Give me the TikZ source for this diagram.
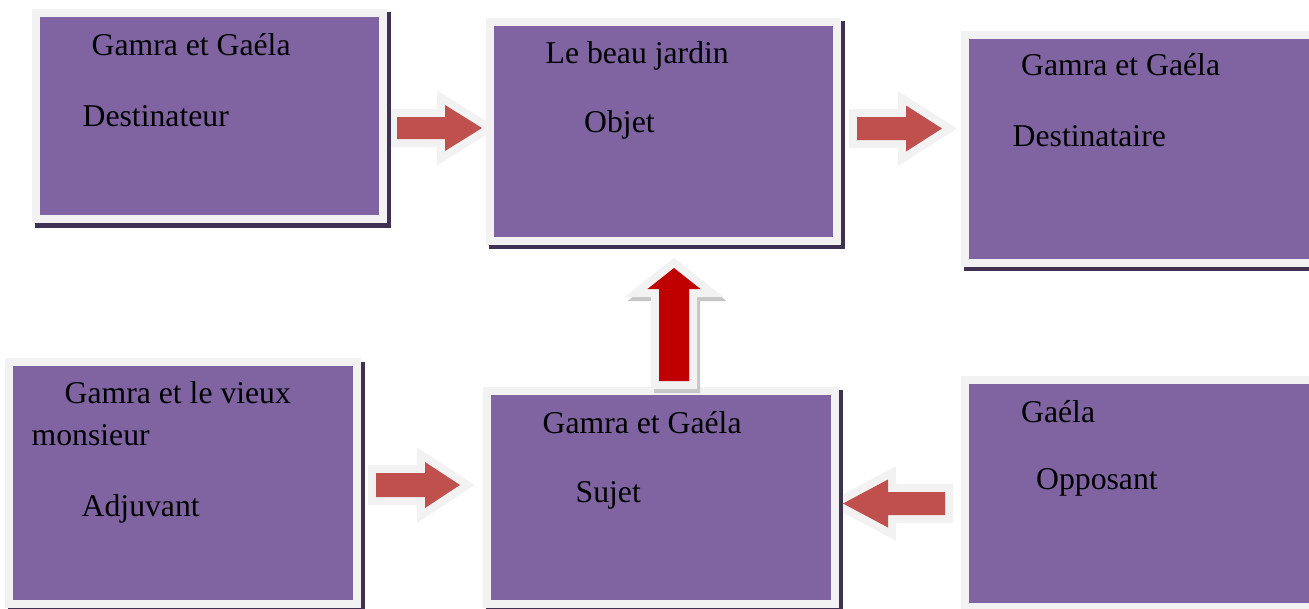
\documentclass[tikz,border=0pt]{standalone}
\usepackage{fontspec}
\setmainfont{Liberation Serif}
\usetikzlibrary{calc}
\pgfdeclarelayer{bglayer}
\pgfsetlayers{bglayer,main}
\definecolor{boxpurple}{HTML}{8064A2}
\definecolor{boxgray}{HTML}{F2F2F2}
\definecolor{shadowpurple}{HTML}{3F3151}
\definecolor{arrowred}{HTML}{C0504D}
\definecolor{darkred}{HTML}{C00000}
\definecolor{hatchgray}{HTML}{C6C6C6}
% points of a block arrow: #1 name, #2 tail, #3 tip, #4 half shaft, #5 half head, #6 head length
\newcommand{\arrowpts}[6]{%
  \coordinate (#1h) at ($(#3)!#6!(#2)$);
  \coordinate (#1p1) at ($(#2)!#4!90:(#3)$);
  \coordinate (#1p2) at ($(#1h)!#4!90:(#3)$);
  \coordinate (#1p3) at ($(#1h)!#5!90:(#3)$);
  \coordinate (#1p4) at ($(#1h)!#5!-90:(#3)$);
  \coordinate (#1p5) at ($(#1h)!#4!-90:(#3)$);
  \coordinate (#1p6) at ($(#2)!#4!-90:(#3)$);
}
\newcommand{\arrowfig}[3]{%
  \path[#3] (#1p1) -- (#1p2) -- (#1p3) -- (#2) -- (#1p4) -- (#1p5) -- (#1p6) -- cycle;}
\tikzset{
  box/.style={rectangle, fill=boxpurple, draw=boxgray, line width=8pt, inner sep=0pt, outer sep=0pt},
  arrowrim/.style={draw=boxgray, fill=boxgray, line width=16pt, line join=miter},
  arrowshade/.style={draw=hatchgray, fill=hatchgray, line width=16pt, line join=miter,
     transform canvas={xshift=3pt, yshift=-4pt}},
  txt/.style={anchor=base west, inner sep=0pt, font=\fontsize{31.7}{38}\selectfont, text=black},
  boxshadow/.style={fill=shadowpurple}
}
\begin{document}
\begin{tikzpicture}[x=1pt,y=-1pt]
\useasboundingbox (0,0) rectangle (1309,608);
\clip (0,0) rectangle (1309,608);
% boxes
\node[box, minimum width=347pt, minimum height=206pt] (b1) at (209.5,116) {};
\node[box, minimum width=347pt, minimum height=219pt] (b2) at (663.5,131.5) {};
\node[box, minimum width=348pt, minimum height=228pt] (b3) at (1139,149) {};
\node[box, minimum width=348pt, minimum height=242pt] (b4) at (183,483) {};
\node[box, minimum width=348pt, minimum height=213pt] (b5) at (661,497.5) {};
\node[box, minimum width=348pt, minimum height=227pt] (b6) at (1139,493.5) {};
% arrows and shadows underneath
\begin{pgfonlayer}{bglayer}
\clip (0,0) rectangle (1309,608);
\coordinate (aAs) at (397,128);   \coordinate (aAe) at (482,128);
\coordinate (aBs) at (857,128.5); \coordinate (aBe) at (942,128.5);
\coordinate (aCs) at (376,485);   \coordinate (aCe) at (460,485);
\coordinate (aDs) at (945,503.5); \coordinate (aDe) at (843,503.5);
\arrowpts{aA}{aAs}{aAe}{11pt}{23pt}{37pt}
\arrowpts{aB}{aBs}{aBe}{11.5pt}{23pt}{36pt}
\arrowpts{aC}{aCs}{aCe}{12pt}{23pt}{35pt}
\arrowpts{aD}{aDs}{aDe}{11.5pt}{24pt}{45pt}
\arrowfig{aA}{aAe}{arrowrim}
\arrowfig{aB}{aBe}{arrowrim}
\arrowfig{aC}{aCe}{arrowrim}
\arrowfig{aD}{aDe}{arrowrim}
\arrowfig{aA}{aAe}{fill=arrowred}
\arrowfig{aB}{aBe}{fill=arrowred}
\arrowfig{aC}{aCe}{fill=arrowred}
\arrowfig{aD}{aDe}{fill=arrowred}
\fill[boxshadow] ($(b1.north west)+(-1,-1)$) rectangle ($(b1.south east)+(8,8.5)$);
\fill[boxshadow] ($(b2.north west)+(-1,-1)$) rectangle ($(b2.south east)+(8,8)$);
\fill[boxshadow] ($(b3.north west)+(-1,-1)$) rectangle ($(b3.south east)+(8,8)$);
\fill[boxshadow] ($(b4.north west)+(-1,0)$) rectangle ($(b4.south east)+(7.5,8)$);
\fill[boxshadow] ($(b5.north west)+(-1,-1)$) rectangle ($(b5.south east)+(7.5,8)$);
\fill[boxshadow] ($(b6.north west)+(-1,-1)$) rectangle ($(b6.south east)+(8,8)$);
\end{pgfonlayer}
% up arrow from Sujet to Objet
\coordinate (aEs) at (674,381);
\coordinate (aEe) at (674,268);
\arrowpts{aE}{aEs}{aEe}{15pt}{26.5pt}{21pt}
\arrowfig{aE}{aEe}{arrowshade}
\arrowfig{aE}{aEe}{arrowrim}
\arrowfig{aE}{aEe}{fill=darkred}
% texts
\node[txt] (t1a) at (91.5,55) {Gamra et Gaéla};
\node[txt] (t1b) at (82.5,126) {Destinateur};
\node[txt] (t2a) at (545.5,63) {Le beau jardin};
\node[txt] (t2b) at (584,132) {Objet};
\node[txt] (t3a) at (1021,75) {Gamra et Gaéla};
\node[txt] (t3b) at (1012.5,146) {Destinataire};
\node[txt] (t4a) at (64.5,403) {Gamra et le vieux};
\node[txt] (t4b) at (31.5,445) {monsieur};
\node[txt] (t4c) at (81.5,516) {Adjuvant};
\node[txt] (t5a) at (542.5,433) {Gamra et Gaéla};
\node[txt] (t5b) at (575.5,502) {Sujet};
\node[txt] (t6a) at (1021,422) {Gaéla};
\node[txt] (t6b) at (1036,489.5) {Opposant};
\end{tikzpicture}
\end{document}
